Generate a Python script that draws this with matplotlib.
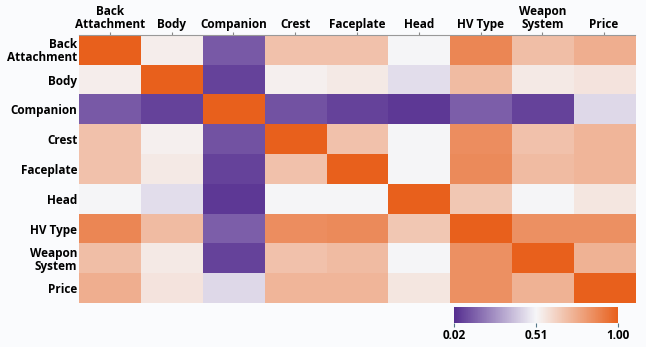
import numpy as np
import matplotlib
matplotlib.use("Agg")
import matplotlib.pyplot as plt
from matplotlib.colors import LinearSegmentedColormap

labels = ["Back\nAttachment", "Body", "Companion", "Crest", "Faceplate",
          "Head", "HV Type", "Weapon\nSystem", "Price"]

row_back_attachment = [1.00, 0.54, 0.13, 0.68, 0.68, 0.51, 0.87, 0.69, 0.74]
row_body            = [0.54, 1.00, 0.07, 0.53, 0.55, 0.45, 0.70, 0.55, 0.57]
row_companion       = [0.13, 0.07, 1.00, 0.11, 0.07, 0.05, 0.14, 0.07, 0.44]
row_crest           = [0.68, 0.53, 0.11, 1.00, 0.68, 0.51, 0.85, 0.68, 0.72]
row_faceplate       = [0.68, 0.55, 0.07, 0.68, 1.00, 0.51, 0.86, 0.70, 0.72]
row_head            = [0.51, 0.45, 0.05, 0.51, 0.51, 1.00, 0.66, 0.51, 0.56]
row_hv_type         = [0.87, 0.70, 0.14, 0.85, 0.86, 0.66, 1.00, 0.84, 0.84]
row_weapon_system   = [0.69, 0.55, 0.07, 0.68, 0.70, 0.51, 0.84, 1.00, 0.73]
row_price           = [0.74, 0.57, 0.44, 0.72, 0.72, 0.56, 0.84, 0.73, 1.00]

cbar_ticks = [0.02, 0.51, 1.00]

matrix = np.array([row_back_attachment, row_body, row_companion, row_crest,
                   row_faceplate, row_head, row_hv_type, row_weapon_system,
                   row_price])

cmap = LinearSegmentedColormap.from_list(
    "pu_or", ["#552e90", "#f6f6f8", "#e8601c"])

plt.rcParams["font.family"] = ["Open Sans", "DejaVu Sans"]
plt.rcParams["font.weight"] = "bold"

fig = plt.figure(figsize=(6.46, 3.47), dpi=100, facecolor="#fafbfd")
ax = fig.add_axes([0.122, 0.127, 0.861, 0.772])
ax.set_facecolor("#fafbfd")

n = len(labels)
im = ax.imshow(matrix, cmap=cmap, vmin=cbar_ticks[0], vmax=cbar_ticks[-1],
               aspect="auto", interpolation="nearest")

ax.set_xticks(np.arange(n))
ax.set_yticks(np.arange(n))
ax.set_xticklabels(labels, fontsize=8.5, fontweight="bold", linespacing=1.0)
ax.set_yticklabels(labels, fontsize=8.5, fontweight="bold", linespacing=1.0)
ax.xaxis.tick_top()
ax.tick_params(axis="x", length=2, color="#888888", pad=1)
ax.tick_params(axis="y", length=0, pad=1)
for s in ["left", "right", "bottom"]:
    ax.spines[s].set_visible(False)
ax.spines["top"].set_color("#999999")
ax.spines["top"].set_linewidth(0.8)

cax = fig.add_axes([0.703, 0.069, 0.254, 0.046])
cb = fig.colorbar(im, cax=cax, orientation="horizontal", ticks=cbar_ticks)
cb.outline.set_visible(False)
cb.ax.set_xticklabels([f"{t:.2f}" for t in cbar_ticks], fontsize=8.5,
                      fontweight="bold")
cb.ax.tick_params(length=3, color="#557788", pad=1)

fig.savefig("out.png", dpi=100, facecolor=fig.get_facecolor())
